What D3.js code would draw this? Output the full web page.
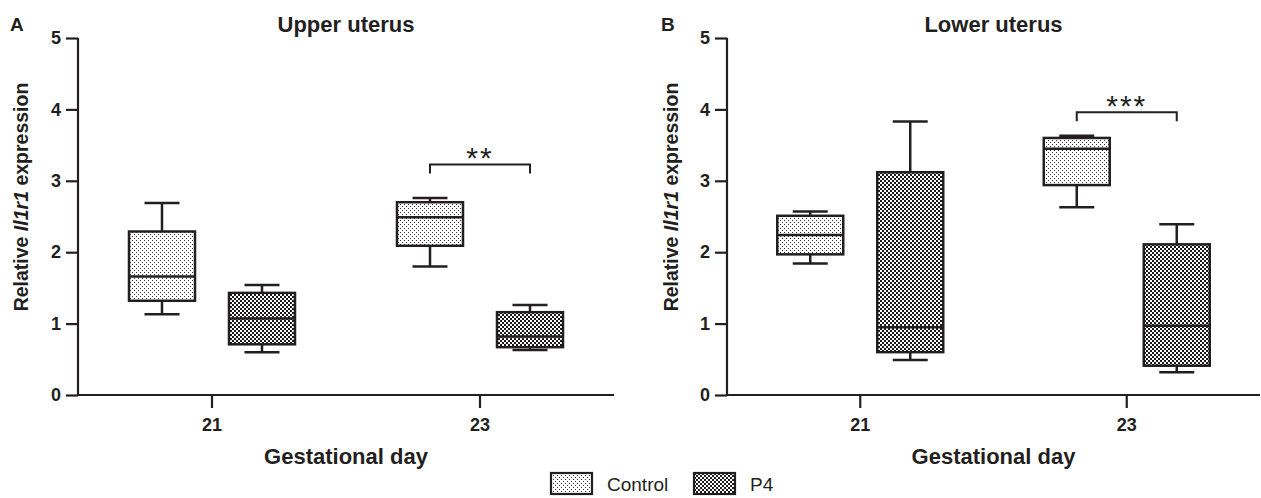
<!DOCTYPE html>
<html>
<head>
<meta charset="utf-8">
<script src="https://cdn.jsdelivr.net/npm/d3@7"></script>
<style>
  body { margin: 0; background: #fff; }
  text { font-family: "Liberation Sans", Arial, sans-serif; fill: #231f20; }
</style>
</head>
<body>
<div id="chart-area"></div>
<script>
// data (box plots: min, q1, median, q3, max)
var days = ["21", "23"]
var groups = ["Control", "P4"]
var yTicks = [0, 1, 2, 3, 4, 5]

var upperControl = [
  {day: "21", min: 1.13, q1: 1.32, med: 1.66, q3: 2.29, max: 2.69},
  {day: "23", min: 1.80, q1: 2.09, med: 2.49, q3: 2.70, max: 2.76}
]
var upperP4 = [
  {day: "21", min: 0.60, q1: 0.71, med: 1.07, q3: 1.43, max: 1.54},
  {day: "23", min: 0.63, q1: 0.67, med: 0.82, q3: 1.16, max: 1.26}
]
var lowerControl = [
  {day: "21", min: 1.84, q1: 1.97, med: 2.24, q3: 2.51, max: 2.57},
  {day: "23", min: 2.63, q1: 2.94, med: 3.45, q3: 3.60, max: 3.63}
]
var lowerP4 = [
  {day: "21", min: 0.49, q1: 0.60, med: 0.95, q3: 3.12, max: 3.83},
  {day: "23", min: 0.32, q1: 0.41, med: 0.97, q3: 2.11, max: 2.39}
]
var upperSig = [{day: "23", y: 3.23, label: "**"}]
var lowerSig = [{day: "23", y: 3.96, label: "***"}]

var ink = "#231f20"
var W = 1261, H = 498

var svg = d3.select("#chart-area").append("svg")
    .attr("width", W)
    .attr("height", H)

var defs = svg.append("defs")
// sparse dots for Control
var pc = defs.append("pattern").attr("id", "dots")
    .attr("patternUnits", "userSpaceOnUse")
    .attr("width", 4).attr("height", 4)
pc.append("rect").attr("width", 4).attr("height", 4).attr("fill", "#fff")
pc.append("rect").attr("x", 0).attr("y", 0).attr("width", 1).attr("height", 1).attr("fill", "#333")
pc.append("rect").attr("x", 2).attr("y", 2).attr("width", 1).attr("height", 1).attr("fill", "#333")
// checkerboard for P4
var pp = defs.append("pattern").attr("id", "checks")
    .attr("patternUnits", "userSpaceOnUse")
    .attr("width", 4).attr("height", 4)
pp.append("rect").attr("width", 4).attr("height", 4).attr("fill", "#fff")
pp.append("rect").attr("x", 0).attr("y", 0).attr("width", 2).attr("height", 2).attr("fill", "#1a1a1a")
pp.append("rect").attr("x", 2).attr("y", 2).attr("width", 2).attr("height", 2).attr("fill", "#1a1a1a")

var fills = {Control: "url(#dots)", P4: "url(#checks)"}

var y = d3.scaleLinear().domain([0, 5]).range([395, 38])

function panel(opts) {
  var x = d3.scaleBand().domain(days).range([opts.x0, opts.x1])
  var off = d3.scaleOrdinal().domain(groups).range([-50, 50])
  var boxW = 66, capW = 35
  var g = svg.append("g")
  var cx = function(d, grp) { return x(d.day) + x.bandwidth() / 2 + off(grp) }

  // axes
  var yAxis = g.append("g")
      .attr("transform", "translate(" + opts.x0 + ",0)")
      .call(d3.axisLeft(y).tickValues(yTicks).tickSize(12).tickPadding(5).tickFormat(d3.format("d")))
  var xAxis = g.append("g")
      .attr("transform", "translate(0," + y(0) + ")")
      .call(d3.axisBottom(x).tickSize(13).tickPadding(10).tickSizeOuter(0))
  g.selectAll(".domain, .tick line").attr("stroke", ink).attr("stroke-width", 2.2)
  g.selectAll(".tick text")
      .attr("fill", ink)
      .style("font-family", "'Liberation Sans', Arial, sans-serif")
      .style("font-size", "18px").style("font-weight", "bold")
  yAxis.select(".domain").attr("d", "M0," + y(5) + "V" + y(0))
  xAxis.select(".domain").attr("d", "M" + opts.x0 + ",0H" + opts.x1)

  // boxes
  ;[[opts.control, "Control"], [opts.p4, "P4"]].forEach(function(pair) {
    var grp = pair[1]
    var b = g.selectAll(".b" + grp).data(pair[0]).enter().append("g")
    // whiskers
    b.append("line")
        .attr("x1", function(d) { return cx(d, grp) }).attr("x2", function(d) { return cx(d, grp) })
        .attr("y1", function(d) { return y(d.max) }).attr("y2", function(d) { return y(d.min) })
        .attr("stroke", ink).attr("stroke-width", 2.5)
    b.append("line")
        .attr("x1", function(d) { return cx(d, grp) - capW / 2 }).attr("x2", function(d) { return cx(d, grp) + capW / 2 })
        .attr("y1", function(d) { return y(d.max) }).attr("y2", function(d) { return y(d.max) })
        .attr("stroke", ink).attr("stroke-width", 2.5)
    b.append("line")
        .attr("x1", function(d) { return cx(d, grp) - capW / 2 }).attr("x2", function(d) { return cx(d, grp) + capW / 2 })
        .attr("y1", function(d) { return y(d.min) }).attr("y2", function(d) { return y(d.min) })
        .attr("stroke", ink).attr("stroke-width", 2.5)
    b.append("rect")
        .attr("x", function(d) { return cx(d, grp) - boxW / 2 })
        .attr("y", function(d) { return y(d.q3) })
        .attr("width", boxW)
        .attr("height", function(d) { return y(d.q1) - y(d.q3) })
        .attr("fill", fills[grp]).attr("stroke", ink).attr("stroke-width", 2.5)
    b.append("line")
        .attr("x1", function(d) { return cx(d, grp) - boxW / 2 }).attr("x2", function(d) { return cx(d, grp) + boxW / 2 })
        .attr("y1", function(d) { return y(d.med) }).attr("y2", function(d) { return y(d.med) })
        .attr("stroke", ink).attr("stroke-width", 2.5)
  })

  // significance brackets
  opts.sig.forEach(function(s) {
    var xa = cx(s, "Control"), xb = cx(s, "P4"), yy = y(s.y)
    g.append("path")
        .attr("d", "M" + xa + "," + (yy + 9) + "V" + yy + "H" + xb + "V" + (yy + 9))
        .attr("fill", "none").attr("stroke", ink).attr("stroke-width", 2)
    g.append("text")
        .attr("x", (xa + xb) / 2).attr("y", yy + 4)
        .attr("text-anchor", "middle")
        .style("font-size", "30px").style("letter-spacing", "2px")
        .text(s.label)
  })

  var mid = (opts.x0 + opts.x1) / 2
  g.append("text").attr("x", mid).attr("y", 32).attr("text-anchor", "middle")
      .style("font-size", "22px").style("font-weight", "bold").text(opts.title)
  g.append("text").attr("x", mid).attr("y", 464).attr("text-anchor", "middle")
      .style("font-size", "22px").style("font-weight", "bold").text("Gestational day")
  g.append("text").attr("x", opts.labelX).attr("y", 31)
      .style("font-size", "19px").style("font-weight", "bold").text(opts.letter)

  var yl = g.append("text")
      .attr("transform", "translate(" + opts.ylabX + ",197) rotate(-90)")
      .attr("text-anchor", "middle")
      .style("font-size", "19.5px").style("font-weight", "bold")
  yl.append("tspan").text("Relative ")
  yl.append("tspan").style("font-style", "italic").text("Il1r1")
  yl.append("tspan").text(" expression")
}

panel({x0: 78, x1: 614, control: upperControl, p4: upperP4, sig: upperSig,
       title: "Upper uterus", letter: "A", labelX: 10, ylabX: 28})
panel({x0: 727, x1: 1260, control: lowerControl, p4: lowerP4, sig: lowerSig,
       title: "Lower uterus", letter: "B", labelX: 661, ylabX: 678})

// legend
var legend = svg.append("g")
var lg = legend.selectAll("g").data(groups).enter().append("g")
    .attr("transform", function(d, i) { return "translate(" + (551 + i * 143) + ",473)" })
lg.append("rect").attr("width", 41).attr("height", 21)
    .attr("fill", function(d) { return fills[d] })
    .attr("stroke", ink).attr("stroke-width", 2.2)
lg.append("text").attr("x", 56).attr("y", 18)
    .style("font-size", "19px").text(function(d) { return d })
</script>
</body>
</html>
